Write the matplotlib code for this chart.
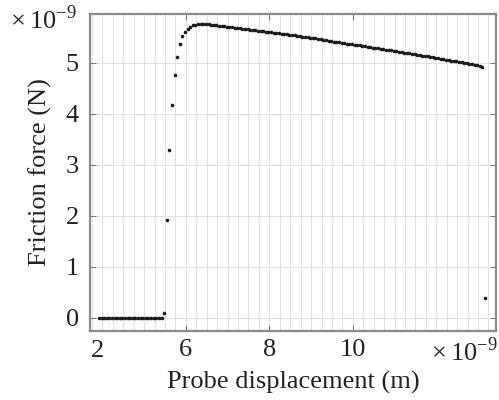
import matplotlib
matplotlib.use("Agg")
import matplotlib.pyplot as plt
from matplotlib.ticker import MultipleLocator

plt.rcParams["font.family"] = ["Liberation Serif", "DejaVu Serif"]
plt.rcParams["mathtext.fontset"] = "custom"
plt.rcParams["mathtext.rm"] = "Liberation Serif"

# probe displacement (x 1e-9 m) and friction force (x 1e-9 N)
flat_x = [3.918, 3.980, 4.043, 4.105, 4.168, 4.230, 4.293, 4.355, 4.418, 4.480,
          4.543, 4.605, 4.668, 4.730, 4.793, 4.855, 4.918, 4.980, 5.043, 5.105,
          5.168, 5.230, 5.293, 5.355, 5.418]
flat_y = [0.0] * len(flat_x)

rise_x = [5.480, 5.543, 5.605, 5.668, 5.730, 5.793, 5.855, 5.918, 5.980, 6.043,
          6.105, 6.168, 6.230, 6.293, 6.355, 6.418, 6.480, 6.543, 6.605]
rise_y = [0.09, 1.91, 3.29, 4.18, 4.76, 5.12, 5.37, 5.52, 5.61, 5.67,
          5.71, 5.735, 5.75, 5.758, 5.762, 5.763, 5.762, 5.758, 5.752]

decline_x = [6.668, 6.730, 6.793, 6.855, 6.918, 6.980, 7.043, 7.105, 7.168, 7.230,
             7.293, 7.355, 7.418, 7.480, 7.543, 7.605, 7.668, 7.730, 7.793, 7.855,
             7.918, 7.980, 8.043, 8.105, 8.168, 8.230, 8.293, 8.355, 8.418, 8.480,
             8.543, 8.605, 8.668, 8.730, 8.793, 8.855, 8.918, 8.980, 9.043, 9.105,
             9.168, 9.230, 9.293, 9.355, 9.418, 9.480, 9.543, 9.605, 9.668, 9.730,
             9.793, 9.855, 9.918, 9.980, 10.043, 10.105, 10.168, 10.230, 10.293, 10.355,
             10.418, 10.480, 10.543, 10.605, 10.668, 10.730, 10.793, 10.855, 10.918, 10.980,
             11.043, 11.105, 11.168, 11.230, 11.293, 11.355, 11.418, 11.480, 11.543, 11.605,
             11.668, 11.730, 11.793, 11.855, 11.918, 11.980, 12.043, 12.105, 12.168, 12.230,
             12.293, 12.355, 12.418, 12.480, 12.543, 12.605, 12.668, 12.730, 12.793, 12.855,
             12.918, 12.980, 13.043, 13.105]
decline_y = [5.75, 5.74, 5.73, 5.73, 5.72, 5.71, 5.71, 5.70, 5.69, 5.69,
             5.68, 5.67, 5.67, 5.66, 5.65, 5.65, 5.64, 5.63, 5.63, 5.62,
             5.61, 5.61, 5.60, 5.59, 5.59, 5.58, 5.57, 5.56, 5.56, 5.55,
             5.54, 5.54, 5.53, 5.52, 5.51, 5.51, 5.50, 5.49, 5.48, 5.48,
             5.47, 5.46, 5.45, 5.45, 5.44, 5.43, 5.42, 5.42, 5.41, 5.40,
             5.39, 5.38, 5.38, 5.37, 5.36, 5.35, 5.35, 5.34, 5.33, 5.32,
             5.31, 5.30, 5.30, 5.29, 5.28, 5.27, 5.26, 5.25, 5.25, 5.24,
             5.23, 5.22, 5.21, 5.20, 5.20, 5.19, 5.18, 5.17, 5.16, 5.15,
             5.14, 5.13, 5.13, 5.12, 5.11, 5.10, 5.09, 5.08, 5.07, 5.06,
             5.05, 5.04, 5.04, 5.03, 5.02, 5.01, 5.00, 4.99, 4.98, 4.97,
             4.96, 4.95, 4.94, 4.93]

outlier_x = [13.168]
outlier_y = [0.38]

y_ticks = [0, 1, 2, 3, 4, 5]
x_ticks = [6, 8, 10]

fig = plt.figure(figsize=(4.99, 4.0), dpi=100)
ax = fig.add_axes([0.180, 0.173, 0.814, 0.792])

for xs, ys in [(flat_x, flat_y), (rise_x, rise_y), (decline_x, decline_y), (outlier_x, outlier_y)]:
    ax.plot(xs, ys, linestyle="none", marker="o", markersize=2.6,
            markeredgewidth=0, color="#1a1a1a", zorder=3)

ax.set_xlim(3.70, 13.43)
ax.set_ylim(-0.255, 5.96)
ax.set_xticks(x_ticks)
ax.set_yticks(y_ticks)
ax.xaxis.set_minor_locator(MultipleLocator(0.25))

ax.grid(True, which="major", axis="y", color="#e2e2e2", linewidth=0.7)
ax.grid(True, which="both", axis="x", color="#e2e2e2", linewidth=0.7)
ax.set_axisbelow(True)

ax.tick_params(which="major", direction="in", length=4, width=0.8, color="#777777",
               top=True, right=True, labelsize=19, labelcolor="#222222")
ax.tick_params(axis="x", pad=6)
ax.tick_params(axis="y", pad=8)
ax.tick_params(which="minor", length=0)
for s in ax.spines.values():
    s.set_color("#8a8a8a")
    s.set_linewidth(1.6)

# MATLAB-style left tick label and exponent labels
ax.text(0.02, -0.028, "2", transform=ax.transAxes, ha="center", va="top",
        fontsize=19, color="#222222")
fig.text(0.02, 0.95, r"$\times\,10^{-9}$", fontsize=19, color="#222222", ha="left", va="center")
fig.text(0.997, 0.12, r"$\times\,10^{-9}$", fontsize=19, color="#222222", ha="right", va="center")

ax.set_xlabel("Probe displacement (m)", fontsize=19, color="#222222", labelpad=7)
ax.set_ylabel("Friction force (N)", fontsize=19, color="#222222", labelpad=10)

fig.savefig("out.png", dpi=100)
